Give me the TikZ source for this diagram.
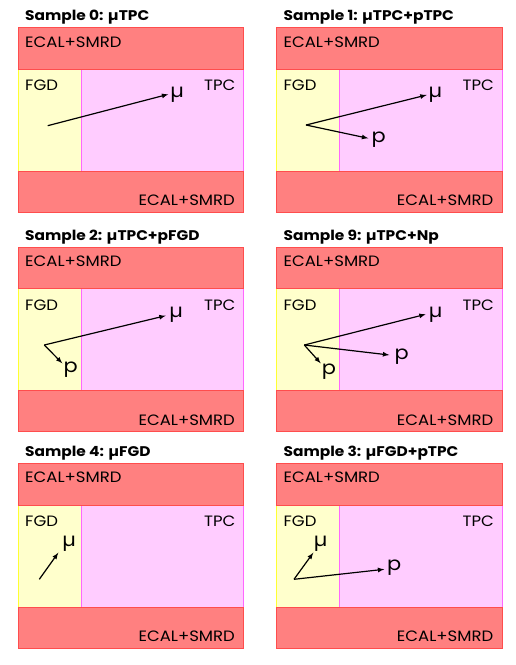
\documentclass[tikz,border=0pt]{standalone}
\usepackage{fontspec}
\setmainfont{Poppins}[FakeStretch=1.1]
\usetikzlibrary{calc}
\definecolor{ecalfill}{HTML}{FF8080}
\definecolor{ecalline}{HTML}{FF4D4D}
\definecolor{fgdfill}{HTML}{FFFFCC}
\definecolor{fgdline}{HTML}{FFFF33}
\definecolor{tpcfill}{HTML}{FFCCFF}
\definecolor{tpcline}{HTML}{FF66FF}
\newcommand{\muon}{\symbol{"00B5}}

\begin{document}
\begin{tikzpicture}[x=1pt, y=-1pt,
	det/.style={font=\fontsize{15}{17}\selectfont, inner sep=0pt},
	ttl/.style={font=\fontsize{14}{16}\selectfont\bfseries, inner sep=0pt, anchor=base west},
	lbl/.style={font=\fontsize{19}{21}\selectfont, inner sep=0pt},
	trk/.style={line width=1.2pt, -latex}]
		\useasboundingbox (0,0) rectangle (515,665);
		\foreach \i/\x/\y/\t in {0/18.3/27.7/{Sample 0: \muon TPC}, 1/276.7/27.7/{Sample 1: \muon TPC+pTPC},
			2/18.3/247/{Sample 2: \muon TPC+pFGD}, 9/276.7/247/{Sample 9: \muon TPC+Np},
			4/18.3/463.5/{Sample 4: \muon FGD}, 3/276.7/463.5/{Sample 3: \muon FGD+pTPC}} {
			\begin{scope}[shift={(\x,\y)}, line width=0.8pt]
				\draw[fill=fgdfill, draw=fgdline] (0,41.5) rectangle (62.7,143.5);
				\draw[fill=tpcfill, draw=tpcline] (62.7,41.5) rectangle (225.5,143.5);
				\draw[fill=ecalfill, draw=ecalline] (0,0) rectangle (225.5,41.5);
				\draw[fill=ecalfill, draw=ecalline] (0,143.5) rectangle (225.5,184.8);
				\node[ttl] (title\i) at (6.5,-7) {\t};
				\node[det, anchor=base west] (ecalT\i) at (6.5,19.3) {ECAL+SMRD};
				\node[det, anchor=base east] (ecalB\i) at (217,178) {ECAL+SMRD};
				\node[det, anchor=base west] (fgd\i) at (6.5,63) {FGD};
				\node[det, anchor=base east] (tpc\i) at (217.5,63) {TPC};
			\end{scope}
		}
		% sample 0
		\coordinate (v0) at (47.7,125.7);
		\coordinate (v0mu) at (168.3,94.3);
		\node[lbl] (mu0) at (177,95) {\muon};
		\draw[trk] (v0) -- (v0mu);
		% sample 1
		\coordinate (v1) at (306,125);
		\coordinate (v1mu) at (426.7,95);
		\coordinate (v1p) at (368.3,138.3);
		\node[lbl] (mu1) at (435.3,95) {\muon};
		\node[lbl] (p1) at (378.7,140) {p};
		\draw[trk] (v1) -- (v1mu);
		\draw[trk] (v1) -- (v1p);
		% sample 2
		\coordinate (v2) at (44.3,345);
		\coordinate (v2mu) at (165.7,315.7);
		\coordinate (v2p) at (62.3,363.3);
		\node[lbl] (mu2) at (176,315) {\muon};
		\node[lbl] (p2) at (70.7,370) {p};
		\draw[trk] (v2) -- (v2mu);
		\draw[trk] (v2) -- (v2p);
		% sample 9
		\coordinate (v9) at (304.3,345);
		\coordinate (v9mu) at (425.7,314.3);
		\coordinate (v9p) at (389.3,355);
		\coordinate (v9pp) at (320.7,363.3);
		\node[lbl] (mu9) at (435.5,315) {\muon};
		\node[lbl] (p9) at (401.7,356.7) {p};
		\node[lbl] (pp9) at (329,371.7) {p};
		\draw[trk] (v9) -- (v9mu);
		\draw[trk] (v9) -- (v9p);
		\draw[trk] (v9) -- (v9pp);
		% sample 4
		\coordinate (v4) at (39.3,579.3);
		\coordinate (v4mu) at (58.3,552.7);
		\node[lbl] (mu4) at (69,543.3) {\muon};
		\draw[trk] (v4) -- (v4mu);
		% sample 3
		\coordinate (v3) at (294,579.3);
		\coordinate (v3mu) at (313.3,552.7);
		\coordinate (v3p) at (384.3,569.3);
		\node[lbl] (mu3) at (320.7,543.3) {\muon};
		\node[lbl] (p3) at (394.3,567.3) {p};
		\draw[trk] (v3) -- (v3mu);
		\draw[trk] (v3) -- (v3p);
\end{tikzpicture}
\end{document}
